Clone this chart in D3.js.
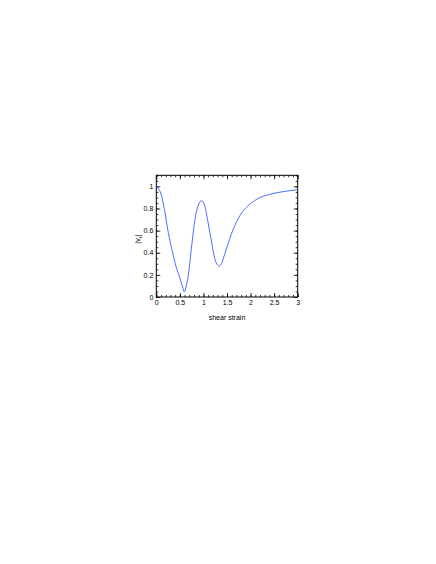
<!DOCTYPE html>
<html>
<head>
<meta charset="utf-8">
<script src="https://cdn.jsdelivr.net/npm/d3@7"></script>
<style>
  body { margin: 0; background: #fff; }
  svg { display: block; }
  text { font-family: "Liberation Sans", Arial, sans-serif; fill: #000; }
</style>
</head>
<body>
<svg id="chart" width="436" height="564"></svg>
<script>
// Data
var strain = [0, 0.03, 0.115, 0.185, 0.255, 0.33, 0.40, 0.50, 0.56, 0.595, 0.63, 0.68, 0.75, 0.82, 0.89, 0.963,
              1.03, 1.10, 1.175, 1.245, 1.30, 1.335, 1.38, 1.46, 1.56, 1.67, 1.81, 1.95, 2.16, 2.38, 2.66, 3.0];
var veps   = [1.0, 0.99, 0.91, 0.76, 0.58, 0.43, 0.305, 0.17, 0.09, 0.045, 0.09, 0.20, 0.46, 0.70, 0.83, 0.87,
              0.82, 0.67, 0.49, 0.34, 0.29, 0.28, 0.30, 0.40, 0.53, 0.65, 0.76, 0.825, 0.89, 0.925, 0.95, 0.97];
var xTicks = [0, 0.5, 1, 1.5, 2, 2.5, 3];
var yTicks = [0, 0.2, 0.4, 0.6, 0.8, 1];

// plot box (note: "top" is reserved on window, so use other names)
var pLeft = 156.3, pRight = 297.7, pTop = 175.3, pBottom = 297;

var svg = d3.select("#chart");

var x = d3.scaleLinear().domain([0, 3]).range([pLeft, pRight]);
var y = d3.scaleLinear().domain([0, 1.1]).range([pBottom, pTop]);

var xMinor = d3.range(0, 3.001, 0.1);
var yMinor = d3.range(0, 1.1001, 0.05);

function fmt(d) { return d3.format("~g")(d); }
function noDomain(g) { g.select(".domain").remove(); }

// bottom / top axes
svg.append("g").attr("transform", "translate(0," + pBottom + ")")
    .call(d3.axisBottom(x).tickValues(xTicks).tickFormat(fmt).tickSize(-4).tickPadding(3))
    .call(noDomain);
svg.append("g").attr("transform", "translate(0," + pBottom + ")")
    .call(d3.axisBottom(x).tickValues(xMinor).tickFormat("").tickSize(-2))
    .call(noDomain);
svg.append("g").attr("transform", "translate(0," + pTop + ")")
    .call(d3.axisTop(x).tickValues(xTicks).tickFormat("").tickSize(-4))
    .call(noDomain);
svg.append("g").attr("transform", "translate(0," + pTop + ")")
    .call(d3.axisTop(x).tickValues(xMinor).tickFormat("").tickSize(-2))
    .call(noDomain);

// left / right axes
svg.append("g").attr("transform", "translate(" + pLeft + ",0)")
    .call(d3.axisLeft(y).tickValues(yTicks).tickFormat(fmt).tickSize(-4).tickPadding(3))
    .call(noDomain);
svg.append("g").attr("transform", "translate(" + pLeft + ",0)")
    .call(d3.axisLeft(y).tickValues(yMinor).tickFormat("").tickSize(-2))
    .call(noDomain);
svg.append("g").attr("transform", "translate(" + pRight + ",0)")
    .call(d3.axisRight(y).tickValues(yTicks).tickFormat("").tickSize(-4))
    .call(noDomain);
svg.append("g").attr("transform", "translate(" + pRight + ",0)")
    .call(d3.axisRight(y).tickValues(yMinor).tickFormat("").tickSize(-2))
    .call(noDomain);

svg.selectAll(".tick text")
    .style("font-size", "7px")
    .style("font-family", "Liberation Sans, Arial, sans-serif")
    .attr("fill", "#000");
svg.selectAll(".tick line").attr("stroke", "#000").attr("stroke-width", 0.8);

// frame
svg.append("rect")
    .attr("x", pLeft).attr("y", pTop)
    .attr("width", pRight - pLeft).attr("height", pBottom - pTop)
    .attr("fill", "none").attr("stroke", "#000").attr("stroke-width", 1);

// curve
var line = d3.line()
    .x(function(d, i) { return x(strain[i]); })
    .y(function(d) { return y(d); })
    .curve(d3.curveMonotoneX);

svg.append("path")
    .datum(veps)
    .attr("d", line)
    .attr("fill", "none")
    .attr("stroke", "#3a5cff")
    .attr("stroke-width", 0.9);

// labels
svg.append("text")
    .attr("x", (pLeft + pRight) / 2).attr("y", 320)
    .attr("text-anchor", "middle")
    .style("font-size", "7px")
    .text("shear strain");

var yl = svg.append("text")
    .attr("transform", "translate(140,239) rotate(-90)")
    .attr("text-anchor", "middle")
    .style("font-size", "7px");
yl.append("tspan").text("|v");
yl.append("tspan").attr("dy", 2).style("font-size", "5px").text("ε");
yl.append("tspan").attr("dy", -2).text("|");
</script>
</body>
</html>
